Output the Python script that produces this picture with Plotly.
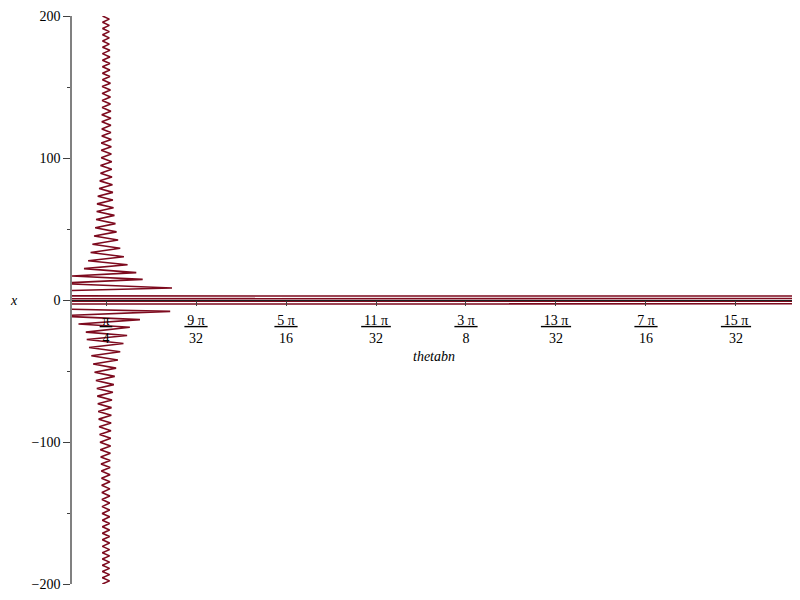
import math
import plotly.graph_objects as go

PI = math.pi

# Curve vertices: x value and theta offset from pi/4 (milliradians)
upper_x = [200.0, 197.8, 195.6, 193.4, 191.2, 189.0, 186.8, 184.6, 182.4, 180.2, 178.0,
           175.8, 173.5, 171.2, 168.9, 166.6, 164.3, 162.0, 159.7, 157.4, 155.1,
           152.7, 150.3, 147.9, 145.5, 143.0, 140.5, 138.0, 135.5,
           133.0, 130.5, 128.0, 125.5, 123.0, 120.5, 118.0, 115.5,
           113.0, 110.5, 108.0, 105.5, 102.8, 100.1,
           97.4, 94.7, 92.0, 89.3, 86.6, 83.9, 81.2, 78.5, 75.8,
           73.1, 70.4, 67.7, 65.0, 62.3, 59.6, 56.7, 53.8, 50.9, 48.0,
           45.1, 42.2, 39.3, 36.4, 33.5, 30.5, 27.6, 24.8, 22.1, 19.3,
           16.9, 14.5, 11.7, 8.4]
upper_dtheta = [-3.8, 3.6, -3.8, 3.6, -3.8, 3.6, -3.8, 3.6, -3.8, 3.6, -3.8,
                4.2, -3.9, 4.2, -3.9, 4.2, -3.9, 4.2, -3.9, 4.2, -3.9,
                4.8, -4.2, 4.8, -4.2, 4.8, -4.2, 4.8, -4.2,
                5.3, -4.6, 5.3, -4.6, 5.3, -4.6, 5.3, -4.6,
                5.8, -5.2, 5.8, -5.2, 5.8, -5.2,
                6.3, -6.0, 6.3, -6.0, 6.5, -6.8, 7.0, -7.5, 7.5,
                -9.0, 7.5, -9.8, 8.2, -10.2, 9.2, -10.8, 10.3, -11.8, 11.5,
                -13.0, 13.2, -14.8, 15.5, -16.8, 19.5, -19.5, 23.5, -24.0, 33.0,
                -38.0, 40.0, -55.0, 72.0]

# near x = 0 the swings run far past both edges of the view
center_x = [2.9, 2.2, -0.4, -1.15, -2.9]
center_dtheta = [-285.0, 6000.0, -6000.0, 6000.0, -285.0]

lower_x = [-8.0, -11.2, -13.8, -16.9, -19.2, -22.6, -25.0, -27.8, -30.6, -33.5,
           -36.4, -39.3, -42.2, -45.1, -48.0, -50.9, -53.8, -56.7, -59.6, -62.3,
           -65.0, -67.7, -70.4, -73.1, -75.8, -78.5, -81.2, -83.9, -86.6, -89.3,
           -92.0, -94.7, -97.4, -100.1, -102.8, -105.5, -108.0, -110.5, -113.0,
           -115.5, -118.0, -120.5, -123.0, -125.5, -128.0, -130.5, -133.0,
           -135.5, -138.0, -140.5, -143.0, -145.5, -147.9, -150.3, -152.7,
           -155.1, -157.4, -159.7, -162.0, -164.3, -166.6, -168.9, -171.2,
           -173.5, -175.8, -178.0, -180.2, -182.4, -184.6, -186.8, -189.0,
           -191.2, -193.4, -195.6, -197.8, -200.0]
lower_dtheta = [70.0, -55.0, 37.0, -30.0, 26.0, -22.0, 23.0, -21.0, 19.0, -18.5,
                15.5, -16.0, 13.0, -14.0, 11.0, -12.5, 9.5, -11.0, 8.5, -10.0,
                7.5, -9.5, 6.5, -9.0, 6.0, -8.5, 5.8, -8.0, 5.6, -7.5,
                5.4, -7.0, 5.2, -6.5, 5.0, -6.2, 4.8, -5.8, 4.6,
                -5.4, 4.5, -5.1, 4.4, -4.9, 4.3, -4.7, 4.2,
                -4.5, 4.1, -4.4, 4.0, -4.3, 4.0, -4.2, 4.0,
                -4.0, 3.9, -4.0, 3.9, -4.0, 3.9, -4.0, 3.9,
                -4.0, 3.9, -4.0, 3.9, -4.0, 3.9, -4.0, 3.9,
                -4.0, 3.9, -4.0, 3.9, -4.0]

tick_num = [1, 9, 5, 11, 3, 13, 7, 15]
tick_den = [4, 32, 16, 32, 8, 32, 16, 32]

y_ticks = [-200, -100, 0, 100, 200]

xs = upper_x + center_x + lower_x
dth = upper_dtheta + center_dtheta + lower_dtheta
thetas = [PI / 4 + d / 1000.0 for d in dth]

tickvals = [n * PI / d for n, d in zip(tick_num, tick_den)]
ticktext = []
for n, d in zip(tick_num, tick_den):
    top = "\u03c0" if n == 1 else f"{n} \u03c0"
    ticktext.append(f"<u>\u2009{top}\u2009</u><br>{d}")

SERIF = "Liberation Serif, Times New Roman, serif"

fig = go.Figure()
fig.add_trace(go.Scatter(x=thetas, y=xs, mode="lines",
                         line=dict(color="#7D0A1E", width=1.6),
                         hoverinfo="skip", showlegend=False))

fig.update_layout(
    width=792, height=584,
    margin=dict(l=64, r=5, t=8, b=8, autoexpand=False),
    paper_bgcolor="white", plot_bgcolor="white",
    font=dict(family=SERIF, size=14, color="black"),
    xaxis=dict(range=[0.7483, 1.537], anchor="free", position=0.5,
               automargin=False,
               tickvals=tickvals, ticktext=ticktext,
               ticks="outside", ticklen=5, tickcolor="#404040",
               ticklabelstandoff=2,
               showline=True, linecolor="#202020", linewidth=1.2,
               showgrid=False, zeroline=False,
               tickfont=dict(family=SERIF, size=14, color="black")),
    yaxis=dict(range=[-200, 200], tickvals=y_ticks, automargin=False,
               ticks="outside", ticklen=7, tickcolor="#404040",
               showline=True, linecolor="#808080", linewidth=1.6,
               showgrid=False, zeroline=False,
               minor=dict(dtick=50, ticklen=3, tickcolor="#404040", ticks="outside"),
               tickfont=dict(family=SERIF, size=14, color="black")),
    annotations=[
        dict(text="<i>thetabn</i>", xref="paper", yref="y", x=0.50, y=-40,
             showarrow=False, font=dict(family=SERIF, size=14, color="black")),
        dict(text="<i>x</i>", xref="paper", yref="y", x=-0.08, y=0,
             xanchor="center", showarrow=False,
             font=dict(family=SERIF, size=14, color="black")),
    ],
)

fig.write_html("out.html")
